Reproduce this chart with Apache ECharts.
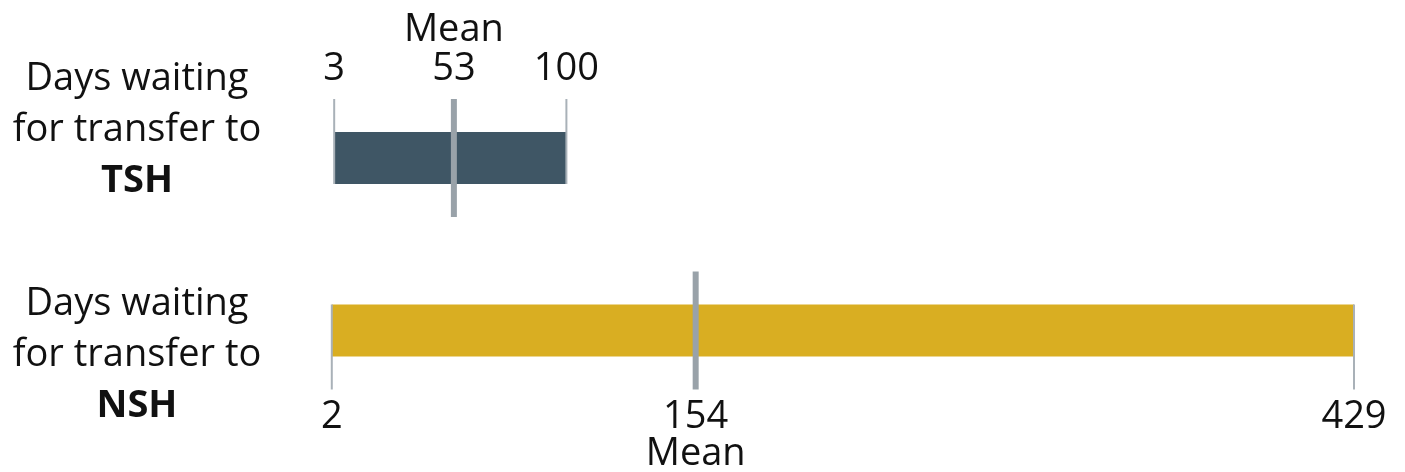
<!DOCTYPE html>
<html><head><meta charset="utf-8">
<script src="https://cdn.jsdelivr.net/npm/echarts@6/dist/echarts.min.js"></script>
<style>html,body{margin:0;padding:0;background:#fff}#c{width:1405px;height:472px}</style>
</head><body><div id="c"></div>
<script>
const categories = ['TSH', 'NSH'];
const minDays = [3, 2];
const maxDays = [100, 429];
const meanDays = [53, 154];
const meanLabel = 'Mean';
const labelPrefix = ['Days waiting', 'for transfer to'];
const barColors = ['#3f5665', '#d9ae22'];

const FONT = '"Open Sans"';
const FS = 38;
const chart = echarts.init(document.getElementById('c'));
const data = categories.map((c, i) => [i, minDays[i], maxDays[i], meanDays[i]]);

function renderItem(params, api) {
  const i = api.value(0);
  const lo = api.coord([api.value(1), i]);
  const hi = api.coord([api.value(2), i]);
  const mn = api.coord([api.value(3), i]);
  const h = 52;
  const top = lo[1] - h / 2, bot = lo[1] + h / 2;
  const above = params.dataIndex === 0;
  const ext = 33;
  const tickY1 = above ? top - ext : top;
  const tickY2 = above ? bot : bot + ext;
  const numY = above ? top - 63 : bot + 61;
  const meanY = above ? top - 102 : bot + 98;
  const tickStyle = {stroke: '#a9b1b8', lineWidth: 2};
  const txt = (x, y, t) => ({type: 'text', style: {x: x, y: y, text: t, fill: '#111', font: FS + 'px ' + FONT, align: 'center', verticalAlign: 'middle'}});
  return {type: 'group', children: [
    {type: 'rect', shape: {x: lo[0], y: top, width: hi[0] - lo[0], height: h}, style: {fill: barColors[i]}},
    {type: 'line', shape: {x1: lo[0], y1: tickY1, x2: lo[0], y2: tickY2}, style: tickStyle},
    {type: 'line', shape: {x1: hi[0], y1: tickY1, x2: hi[0], y2: tickY2}, style: tickStyle},
    {type: 'rect', shape: {x: mn[0] - 3, y: top - ext, width: 6, height: h + 2 * ext}, style: {fill: '#99a2a9'}},
    txt(lo[0], numY, String(api.value(1))),
    txt(hi[0], numY, String(api.value(2))),
    txt(mn[0], numY, String(api.value(3))),
    txt(mn[0], meanY, meanLabel)
  ]};
}

const labelCenters = [130, 355];
const graphics = categories.map((c, i) => ({
  type: 'text',
  style: {
    x: 137, y: labelCenters[i],
    text: labelPrefix[0] + '\n' + labelPrefix[1] + '\n{b|' + c + '}',
    font: FS + 'px ' + FONT, fill: '#111', align: 'center', verticalAlign: 'middle', lineHeight: 51,
    rich: {b: {fontFamily: 'Open Sans', fontSize: FS, fontWeight: 'bold', lineHeight: 51}}
  }
}));

chart.setOption({
  animation: false,
  grid: {left: 327, right: 51, top: 71.75, bottom: 55.25},
  xAxis: {type: 'value', min: 0, max: 429, show: false},
  yAxis: {type: 'category', data: categories, show: false, inverse: true},
  graphic: graphics,
  series: [{type: 'custom', renderItem: renderItem, data: data, encode: {x: [1, 2], y: 0}}]
});
</script></body></html>
